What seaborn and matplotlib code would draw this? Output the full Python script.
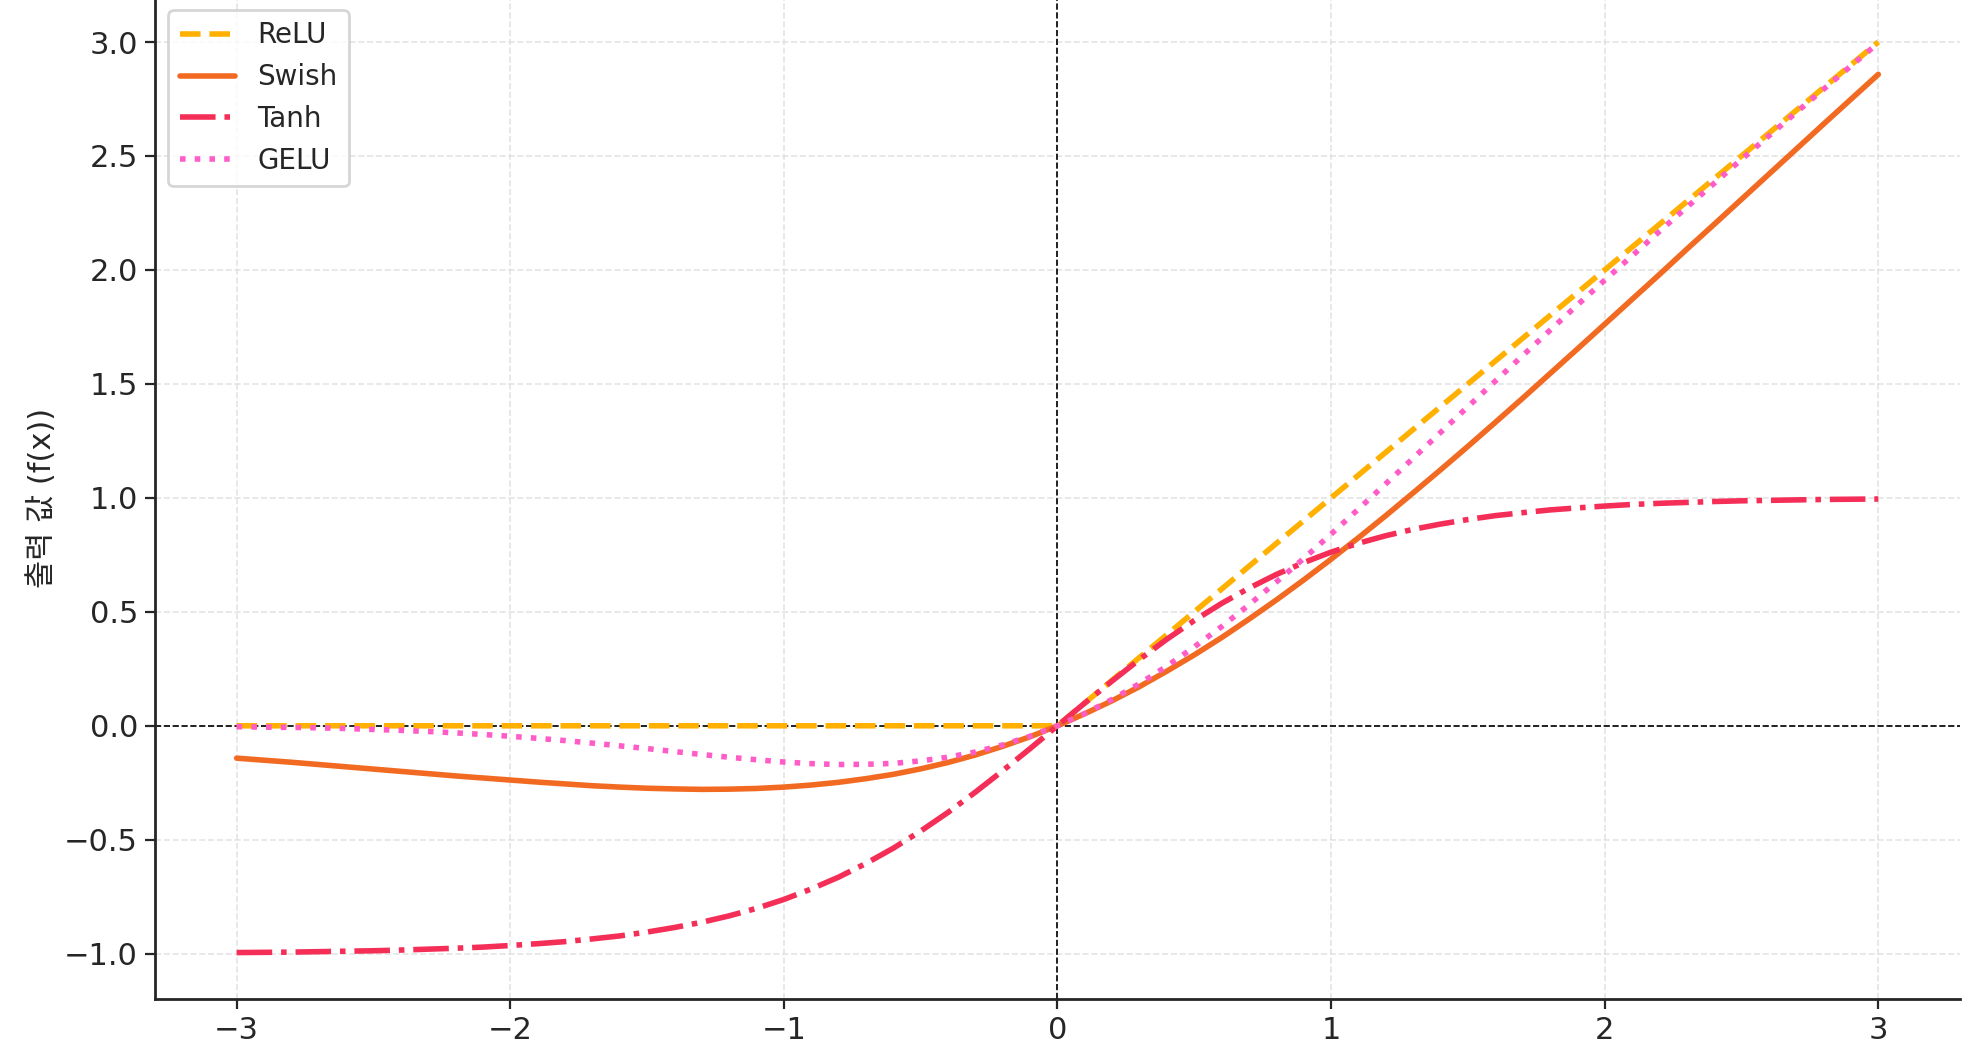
import matplotlib
matplotlib.use("Agg")
import matplotlib.pyplot as plt
import seaborn as sns

x_vals = [-3.0, -2.9, -2.8, -2.7, -2.6, -2.5, -2.4, -2.3, -2.2, -2.1,
          -2.0, -1.9, -1.8, -1.7, -1.6, -1.5, -1.4, -1.3, -1.2, -1.1,
          -1.0, -0.9, -0.8, -0.7, -0.6, -0.5, -0.4, -0.3, -0.2, -0.1,
          0.0, 0.1, 0.2, 0.3, 0.4, 0.5, 0.6, 0.7, 0.8, 0.9,
          1.0, 1.1, 1.2, 1.3, 1.4, 1.5, 1.6, 1.7, 1.8, 1.9,
          2.0, 2.1, 2.2, 2.3, 2.4, 2.5, 2.6, 2.7, 2.8, 2.9, 3.0]

relu = [0.0, 0.0, 0.0, 0.0, 0.0, 0.0, 0.0, 0.0, 0.0, 0.0,
        0.0, 0.0, 0.0, 0.0, 0.0, 0.0, 0.0, 0.0, 0.0, 0.0,
        0.0, 0.0, 0.0, 0.0, 0.0, 0.0, 0.0, 0.0, 0.0, 0.0,
        0.0, 0.1, 0.2, 0.3, 0.4, 0.5, 0.6, 0.7, 0.8, 0.9,
        1.0, 1.1, 1.2, 1.3, 1.4, 1.5, 1.6, 1.7, 1.8, 1.9,
        2.0, 2.1, 2.2, 2.3, 2.4, 2.5, 2.6, 2.7, 2.8, 2.9, 3.0]

swish = [-0.142, -0.151, -0.160, -0.170, -0.180, -0.190, -0.200, -0.210, -0.220, -0.229,
         -0.238, -0.247, -0.255, -0.263, -0.269, -0.274, -0.277, -0.279, -0.278, -0.275,
         -0.269, -0.260, -0.248, -0.232, -0.213, -0.189, -0.161, -0.128, -0.090, -0.048,
         0.0, 0.053, 0.110, 0.172, 0.240, 0.311, 0.387, 0.468, 0.552, 0.640,
         0.731, 0.825, 0.922, 1.022, 1.123, 1.226, 1.331, 1.437, 1.545, 1.653,
         1.762, 1.871, 1.980, 2.091, 2.200, 2.310, 2.420, 2.530, 2.640, 2.749, 2.858]

tanh = [-0.995, -0.994, -0.993, -0.991, -0.989, -0.987, -0.984, -0.980, -0.976, -0.971,
        -0.964, -0.956, -0.947, -0.935, -0.922, -0.905, -0.885, -0.862, -0.834, -0.801,
        -0.762, -0.716, -0.664, -0.604, -0.537, -0.462, -0.380, -0.291, -0.197, -0.100,
        0.0, 0.100, 0.197, 0.291, 0.380, 0.462, 0.537, 0.604, 0.664, 0.716,
        0.762, 0.801, 0.834, 0.862, 0.885, 0.905, 0.922, 0.935, 0.947, 0.956,
        0.964, 0.971, 0.976, 0.980, 0.984, 0.987, 0.989, 0.991, 0.993, 0.994, 0.995]

gelu = [-0.004, -0.006, -0.007, -0.009, -0.012, -0.016, -0.020, -0.025, -0.031, -0.038,
        -0.046, -0.055, -0.065, -0.076, -0.088, -0.100, -0.113, -0.126, -0.138, -0.149,
        -0.159, -0.166, -0.170, -0.169, -0.165, -0.154, -0.138, -0.115, -0.084, -0.046,
        0.0, 0.054, 0.116, 0.185, 0.262, 0.346, 0.435, 0.531, 0.631, 0.734,
        0.841, 0.951, 1.062, 1.174, 1.287, 1.400, 1.512, 1.624, 1.735, 1.846,
        1.955, 2.062, 2.169, 2.275, 2.380, 2.485, 2.588, 2.691, 2.793, 2.895, 2.996]

series_names = ["ReLU", "Swish", "Tanh", "GELU"]
series_vals = [relu, swish, tanh, gelu]
series_colors = ["#FFB000", "#F26A21", "#F42E57", "#FF5CC8"]
series_styles = ["--", "-", "-.", ":"]

y_label = "출력 값 (f(x))"

sns.set_theme(style="ticks")
plt.rcParams["font.family"] = ["DejaVu Sans", "Noto Sans CJK KR"]
plt.rcParams["axes.unicode_minus"] = True

fig = plt.figure(figsize=(9.895, 5.26), dpi=200)
ax = fig.add_axes([0.0781, 0.0501, 0.9125, 0.9533])

for name, vals, col, ls in zip(series_names, series_vals, series_colors, series_styles):
    sns.lineplot(x=x_vals, y=vals, ax=ax, color=col, linestyle=ls, linewidth=2, label=name)

# zero reference lines
ax.axhline(0, color="black", linestyle="--", linewidth=0.6, zorder=1)
ax.axvline(0, color="black", linestyle="--", linewidth=0.6, zorder=1)

ax.set_xlim(-3.3, 3.3)
ax.set_ylim(-1.2, 3.2)
ax.set_xticks([-3, -2, -1, 0, 1, 2, 3])
ax.set_yticks([-1.0, -0.5, 0.0, 0.5, 1.0, 1.5, 2.0, 2.5, 3.0])
ax.grid(True, linestyle="--", color="#dddddd", linewidth=0.6, alpha=0.8)
ax.tick_params(labelsize=11, length=3.5, width=0.8, pad=2.5, colors="#262626")
ax.set_ylabel(y_label, fontsize=11, color="#262626", labelpad=2.5)
for s in ["left", "bottom"]:
    ax.spines[s].set_linewidth(1.0)
    ax.spines[s].set_color("#262626")
sns.despine(ax=ax)

ax.legend(loc="upper left", fontsize=10, frameon=True, fancybox=True, framealpha=0.8,
          edgecolor="#cccccc")

fig.savefig("out.png", dpi=200)
